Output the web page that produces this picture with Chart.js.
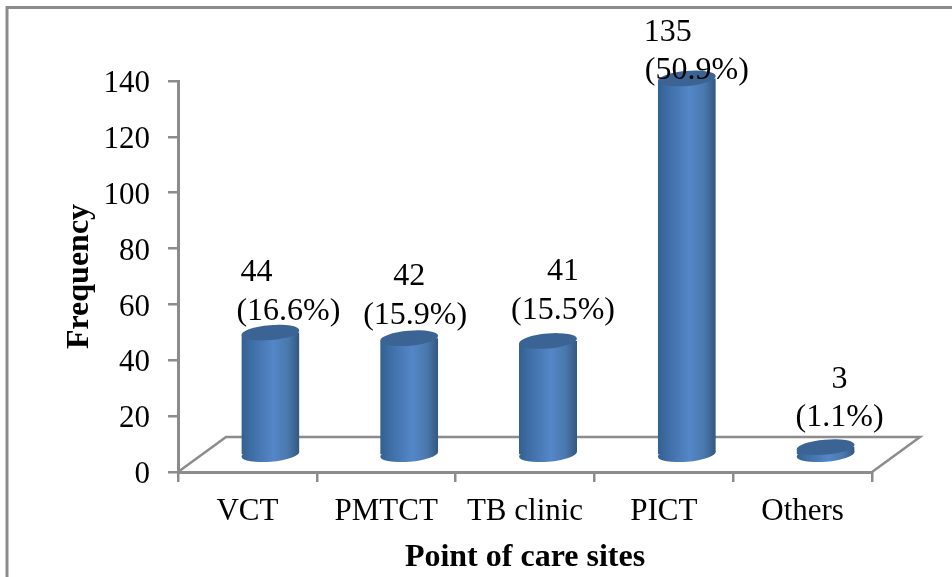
<!DOCTYPE html>
<html>
<head>
<meta charset="utf-8">
<style>
  body { margin: 0; background: #fff; }
  canvas { display: block; }
</style>
</head>
<body>
<canvas id="barChart" width="952" height="577"></canvas>
<script src="https://cdn.jsdelivr.net/npm/chart.js@4"></script>
<script>
const categories = ['VCT', 'PMTCT', 'TB clinic', 'PICT', 'Others'];
const frequency = [44, 42, 41, 135, 3];
const percentLabels = ['(16.6%)', '(15.9%)', '(15.5%)', '(50.9%)', '(1.1%)'];
const yTicks = [0, 20, 40, 60, 80, 100, 120, 140];

const serif = '"Liberation Serif", "Times New Roman", serif';
const axisGrey = '#8c8c8c';

// the 3D look: floor depth, where bars stand on it, ellipse shape
const floorDx = 48, floorDy = -35;
const barDx = 23, barDy = -16.5;
const capRy = 7.5, capTilt = -0.085;
// labels were placed by hand in the original: [dx, dy] from the top of each bar
const valueNudge = [[-14, -60], [0, -62], [15, -69], [-19, -45.5], [14, -68]];
const percentNudge = [[18, -21], [6, -23], [15, -30], [10, -7.5], [14, -30]];

function barGradient(ctx, x, halfWidth) {
  const g = ctx.createLinearGradient(x - halfWidth, 0, x + halfWidth, 0);
  g.addColorStop(0, '#33608f');
  g.addColorStop(0.15, '#3d6ca3');
  g.addColorStop(0.55, '#5487c8');
  g.addColorStop(0.8, '#4a78ae');
  g.addColorStop(1, '#34587f');
  return g;
}

function ellipsePath(ctx, bar, y) {
  ctx.beginPath();
  ctx.ellipse(bar.x, y, bar.width / 2, capRy, capTilt, 0, Math.PI * 2);
}

const frame3d = {
  id: 'frame3d',
  beforeDatasetsDraw(chart) {
    const { ctx, chartArea: a } = chart;
    const base = chart.scales.y.getPixelForValue(0);
    // outer frame of the picture
    ctx.save();
    ctx.strokeStyle = axisGrey;
    ctx.lineWidth = 3;
    ctx.beginPath();
    ctx.moveTo(7, 577);
    ctx.lineTo(7, 7.5);
    ctx.lineTo(952, 7.5);
    ctx.stroke();
    // floor
    ctx.lineWidth = 2.5;
    ctx.beginPath();
    ctx.moveTo(a.left, base);
    ctx.lineTo(a.left + floorDx, base + floorDy);
    ctx.lineTo(a.right + floorDx, base + floorDy);
    ctx.lineTo(a.right, base);
    ctx.stroke();
    ctx.restore();
  },
  beforeDatasetDraw(chart, args) {
    const { ctx } = chart;
    ctx.save();
    ctx.translate(barDx, barDy);
    const bars = args.meta.data;
    bars.forEach(bar => {
      ellipsePath(ctx, bar, bar.base);
      ctx.fillStyle = barGradient(ctx, bar.x, bar.width / 2);
      ctx.fill();
    });
    // cut the square bar ends along the tilt of the ellipses
    ctx.beginPath();
    bars.forEach(bar => {
      const l = bar.x - bar.width / 2, r = bar.x + bar.width / 2;
      const rise = Math.tan(-capTilt) * bar.width / 2;
      ctx.moveTo(l, bar.y + rise);
      ctx.lineTo(r, bar.y - rise);
      ctx.lineTo(r, bar.base - rise);
      ctx.lineTo(l, bar.base + rise);
      ctx.closePath();
    });
    ctx.clip();
  },
  afterDatasetDraw(chart, args) {
    const { ctx } = chart;
    ctx.restore();
    ctx.save();
    ctx.translate(barDx, barDy);
    args.meta.data.forEach(bar => {
      ellipsePath(ctx, bar, bar.y);
      ctx.fillStyle = '#3b6393';
      ctx.fill();
    });
    ctx.restore();
  },
  afterDatasetsDraw(chart) {
    const { ctx } = chart;
    ctx.save();
    ctx.fillStyle = '#000';
    ctx.font = '32px ' + serif;
    ctx.textAlign = 'center';
    ctx.textBaseline = 'middle';
    chart.getDatasetMeta(0).data.forEach((bar, i) => {
      const x = bar.x + barDx, y = bar.y + barDy;
      ctx.fillText(String(frequency[i]), x + valueNudge[i][0], y + valueNudge[i][1]);
      ctx.fillText(percentLabels[i], x + percentNudge[i][0], y + percentNudge[i][1]);
    });
    ctx.restore();
  }
};

new Chart(document.getElementById('barChart'), {
  type: 'bar',
  data: {
    labels: categories,
    datasets: [{
      label: 'Frequency',
      data: frequency,
      categoryPercentage: 1,
      barPercentage: 0.418,
      clip: false,
      backgroundColor(c) {
        const x = c.chart.scales.x;
        if (!c.chart.chartArea || !x) return '#4a7ebb';
        return barGradient(c.chart.ctx, x.getPixelForValue(c.dataIndex), x.width / categories.length * 0.209);
      }
    }]
  },
  options: {
    responsive: false,
    animation: false,
    layout: { padding: { top: 81, right: 80, left: 0, bottom: 0 } },
    plugins: { legend: { display: false }, tooltip: { enabled: false } },
    scales: {
      x: {
        afterFit(s) { s.height = 105; },
        grid: { drawOnChartArea: false, color: axisGrey, lineWidth: 2.5, tickLength: 10 },
        border: { color: axisGrey, width: 3 },
        ticks: { color: '#000', font: { family: serif, size: 31 }, padding: 11, maxRotation: 0, autoSkip: false },
        title: { display: true, text: 'Point of care sites', color: '#000', font: { family: serif, size: 32, weight: 'bold' }, padding: { top: 0, bottom: 0 } }
      },
      y: {
        min: 0,
        max: 140,
        afterFit(s) { s.width = 178; },
        afterBuildTicks(s) { s.ticks = yTicks.map(v => ({ value: v })); },
        grid: { drawOnChartArea: false, color: axisGrey, lineWidth: 2.5, tickLength: 10 },
        border: { color: axisGrey, width: 3 },
        ticks: { color: '#000', font: { family: serif, size: 31 }, padding: 18, labelOffset: 3 },
        title: { display: true, text: 'Frequency', color: '#000', font: { family: serif, size: 32, weight: 'bold' }, padding: { top: 61, bottom: 0 } }
      }
    }
  },
  plugins: [frame3d]
});
</script>
</body>
</html>
